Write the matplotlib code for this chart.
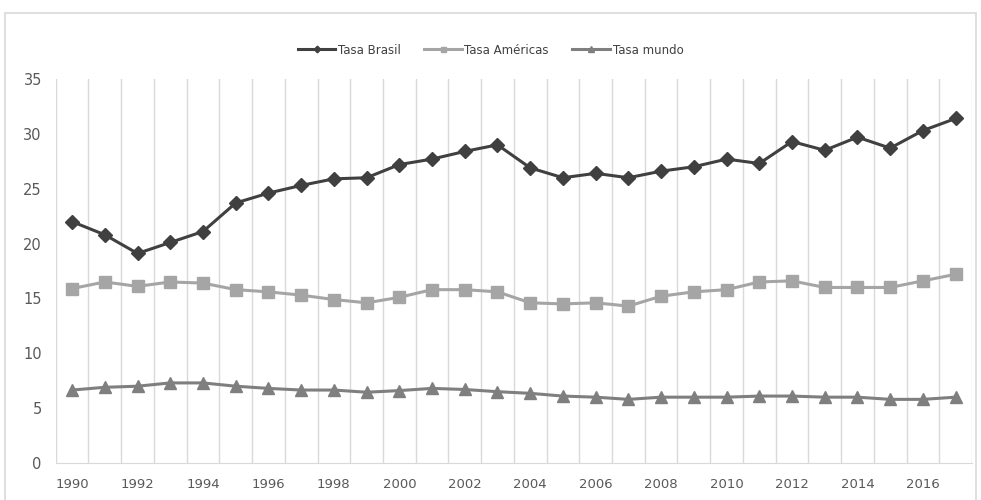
import matplotlib.pyplot as plt
from matplotlib.patches import Rectangle

years = list(range(1990, 2018))

tasa_brasil = [22.0, 20.8, 19.1, 20.1, 21.1, 23.7, 24.6, 25.3, 25.9, 26.0,
               27.2, 27.7, 28.4, 29.0, 26.9, 26.0, 26.4, 26.0, 26.6, 27.0,
               27.7, 27.3, 29.3, 28.5, 29.7, 28.7, 30.3, 31.4]
tasa_americas = [15.9, 16.5, 16.1, 16.5, 16.4, 15.8, 15.6, 15.3, 14.9, 14.6,
                 15.1, 15.8, 15.8, 15.6, 14.6, 14.5, 14.6, 14.3, 15.2, 15.6,
                 15.8, 16.5, 16.6, 16.0, 16.0, 16.0, 16.6, 17.2]
tasa_mundo = [6.65, 6.9, 7.0, 7.3, 7.3, 7.0, 6.8, 6.65, 6.65, 6.45,
              6.6, 6.8, 6.7, 6.5, 6.35, 6.1, 6.0, 5.8, 6.0, 6.0,
              6.0, 6.1, 6.1, 6.0, 6.0, 5.8, 5.8, 6.0]

fig = plt.figure(figsize=(9.81, 5), dpi=100)
fig.patches.append(Rectangle((5 / 981, -0.05), 971 / 981, 1.05 - 13 / 500,
                             transform=fig.transFigure, fill=False,
                             edgecolor="#d9d9d9", linewidth=1.2))
ax = fig.add_axes([0.0568, 0.074, 0.934, 0.768])

x = list(range(len(years)))
ax.plot(x, tasa_brasil, color="#404040", lw=2.2, marker="D", ms=7.5,
        label="Tasa Brasil", zorder=4)
ax.plot(x, tasa_americas, color="#a5a5a5", lw=2.2, marker="s", ms=8,
        label="Tasa Américas", zorder=3)
ax.plot(x, tasa_mundo, color="#7f7f7f", lw=2.2, marker="^", ms=9,
        label="Tasa mundo", zorder=3)

ax.set_xlim(-0.5, len(years) - 0.5)
ax.set_ylim(0, 35)
ax.set_yticks(range(0, 36, 5))
ax.set_xticks(x[::2])
ax.set_xticklabels([str(y) for y in years[::2]])
ax.set_xticks([i + 0.5 for i in range(-1, len(years))], minor=True)
ax.grid(which="minor", axis="x", color="#d9d9d9", lw=1)
ax.tick_params(which="both", length=0, colors="#595959", labelsize=9.5)
ax.tick_params(axis="x", pad=11)
ax.tick_params(axis="y", pad=10, labelsize=10.5)
for s in ["top", "right", "left"]:
    ax.spines[s].set_visible(False)
ax.spines["bottom"].set_color("#d9d9d9")

fig.legend(loc="center", bbox_to_anchor=(0.5, 0.9), ncol=3, frameon=False,
           fontsize=8.5, handlelength=3.2, markerscale=0.45, columnspacing=2.0,
           handletextpad=0.2, labelcolor="#404040")

fig.savefig("out.png", dpi=100)
